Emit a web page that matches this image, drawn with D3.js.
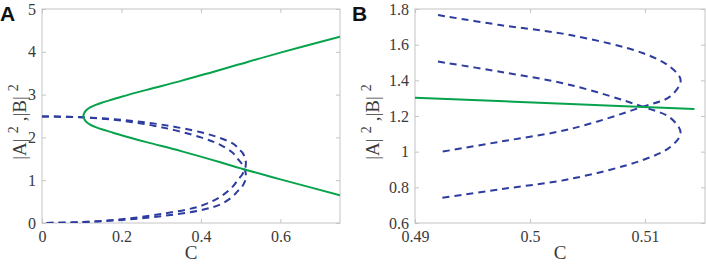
<!DOCTYPE html>
<html>
<head>
<meta charset="utf-8">
<script src="https://cdn.jsdelivr.net/npm/d3@7"></script>
<style>
  body { margin: 0; background: #fff; }
  svg { display: block; }
  .tick text { font-family: "Liberation Serif", "Times New Roman", serif; font-size: 16px; fill: #3a3a3a; }
  .domain { display: none; }
  .tick line { stroke: #c4c4c4; }
</style>
</head>
<body>
<div id="chart"></div>
<script>
// green branches (C, |A|^2 = |B|^2)
const greenUpper = [
  [0.104, 2.50], [0.107, 2.58], [0.112, 2.64], [0.121, 2.70], [0.135, 2.76],
  [0.15, 2.81], [0.179, 2.89], [0.2, 2.95], [0.263, 3.11], [0.35, 3.32],
  [0.43, 3.53], [0.49, 3.69], [0.6, 3.98], [0.75, 4.35]
];
const greenLower = [
  [0.104, 2.50], [0.107, 2.42], [0.112, 2.36], [0.121, 2.30], [0.135, 2.24],
  [0.15, 2.19], [0.179, 2.11], [0.2, 2.05], [0.263, 1.89], [0.35, 1.68],
  [0.43, 1.47], [0.49, 1.303], [0.5035, 1.267], [0.5143, 1.239], [0.6, 1.02], [0.75, 0.65]
];
// zoomed green segment, panel B
const greenB = [[0.49, 1.303], [0.5035, 1.267], [0.5143, 1.239]];

// dashed (unstable) branches, each a C-shaped curve
const dashed1 = [
  [0, 2.49], [0.1, 2.47], [0.2, 2.41], [0.3, 2.30], [0.4, 2.12], [0.45, 1.98],
  [0.48, 1.86], [0.492, 1.766], [0.4974, 1.71], [0.5035, 1.654], [0.5098, 1.553],
  [0.5122, 1.475], [0.5131, 1.40], [0.5122, 1.31], [0.5098, 1.252], [0.5035, 1.127],
  [0.4974, 1.056], [0.492, 0.996], [0.48, 0.85], [0.45, 0.62], [0.4, 0.40],
  [0.3, 0.21], [0.2, 0.09], [0.1, 0.02], [0, 0]
];
const dashed2 = [
  [0, 2.49], [0.1, 2.47], [0.2, 2.39], [0.3, 2.24], [0.4, 2.00], [0.45, 1.82],
  [0.48, 1.64], [0.492, 1.505], [0.4974, 1.448], [0.5035, 1.374], [0.5098, 1.252],
  [0.5122, 1.19], [0.5131, 1.105], [0.5122, 1.026], [0.5098, 0.953], [0.5035, 0.847],
  [0.4974, 0.789], [0.492, 0.738], [0.48, 0.62], [0.45, 0.44], [0.4, 0.30],
  [0.3, 0.16], [0.2, 0.07], [0.1, 0.02], [0, 0]
];

const ticksAx = [0, 0.2, 0.4, 0.6];
const ticksAy = [0, 1, 2, 3, 4, 5];
const ticksBx = [0.49, 0.5, 0.51];
const ticksBy = [0.6, 0.8, 1, 1.2, 1.4, 1.6, 1.8];

const GREEN = "#07a24c", BLUE = "#2d3c9e";
const SERIF = "Liberation Serif, Times New Roman, serif";

const svg = d3.select("#chart").append("svg")
  .attr("width", 706).attr("height", 264);

function panel(opt) {
  const { left, top, width, height, xDomain, yDomain, xTicks, yTicks, letter, lines, id } = opt;
  const g = svg.append("g").attr("transform", `translate(${left},${top})`);
  const x = d3.scaleLinear().domain(xDomain).range([0, width]);
  const y = d3.scaleLinear().domain(yDomain).range([height, 0]);

  g.append("clipPath").attr("id", id).append("rect")
    .attr("width", width).attr("height", height);

  // box
  g.append("rect").attr("width", width).attr("height", height)
    .attr("fill", "none").attr("stroke", "#c4c4c4");

  g.append("g").attr("transform", `translate(0,${height})`)
    .call(d3.axisBottom(x).tickValues(xTicks).tickSizeInner(-4).tickSizeOuter(0).tickPadding(8)
      .tickFormat(d3.format("")))
    .attr("font-family", SERIF);
  g.append("g")
    .call(d3.axisTop(x).tickValues(xTicks).tickSizeInner(-4).tickSizeOuter(0).tickFormat(""));
  g.append("g")
    .call(d3.axisLeft(y).tickValues(yTicks).tickSizeInner(-4).tickSizeOuter(0).tickPadding(6)
      .tickFormat(d3.format("")))
    .attr("font-family", SERIF);
  g.append("g").attr("transform", `translate(${width},0)`)
    .call(d3.axisRight(y).tickValues(yTicks).tickSizeInner(-4).tickSizeOuter(0).tickFormat(""));

  const line = d3.line().x(d => x(d[0])).y(d => y(d[1])).curve(d3.curveCatmullRom.alpha(0.5));
  const plot = g.append("g").attr("clip-path", `url(#${id})`);
  lines.forEach(l => {
    plot.append("path").datum(l.data)
      .attr("d", line)
      .attr("fill", "none")
      .attr("stroke", l.color)
      .attr("stroke-width", 2)
      .attr("stroke-dasharray", l.dash || null);
  });

  // x label
  g.append("text")
    .attr("x", width / 2).attr("y", height + 36)
    .attr("text-anchor", "middle")
    .style("font-family", SERIF).style("font-size", "19px").style("fill", "#3a3a3a")
    .text("C");

  // y label |A|^2,|B|^2
  const yl = g.append("text")
    .attr("transform", `translate(${opt.yLabelX},${height / 2 + 6}) rotate(-90)`)
    .attr("text-anchor", "middle")
    .style("font-family", SERIF).style("font-size", "19px").style("fill", "#3a3a3a");
  yl.append("tspan").text("|A|");
  yl.append("tspan").attr("dx", 5).attr("dy", -8).style("font-size", "14px").text("2");
  yl.append("tspan").attr("dx", 5).attr("dy", 8).text(",|B|");
  yl.append("tspan").attr("dx", 5).attr("dy", -8).style("font-size", "14px").text("2");

  svg.append("text")
    .attr("x", opt.letterX).attr("y", 21)
    .style("font-family", "Liberation Sans, Arial, sans-serif")
    .style("font-size", "21px").style("font-weight", "bold").style("fill", "#111")
    .text(letter);
}

panel({
  id: "clipA", left: 42, top: 9, width: 298, height: 214,
  xDomain: [0, 0.75], yDomain: [0, 5], xTicks: ticksAx, yTicks: ticksAy,
  letter: "A", letterX: 0, yLabelX: -16,
  lines: [
    { data: dashed1, color: BLUE, dash: "7,5" },
    { data: dashed2, color: BLUE, dash: "7,5" },
    { data: greenLower.slice().reverse().concat(greenUpper.slice(1)), color: GREEN }
  ]
});

panel({
  id: "clipB", left: 415, top: 9, width: 290, height: 214,
  xDomain: [0.49, 0.51522], yDomain: [0.6, 1.8], xTicks: ticksBx, yTicks: ticksBy,
  letter: "B", letterX: 352, yLabelX: -36,
  lines: [
    { data: dashed1.filter(d => d[0] >= 0.492), color: BLUE, dash: "7,5" },
    { data: dashed2.filter(d => d[0] >= 0.492), color: BLUE, dash: "7,5" },
    { data: greenB, color: GREEN }
  ]
});
</script>
</body>
</html>
